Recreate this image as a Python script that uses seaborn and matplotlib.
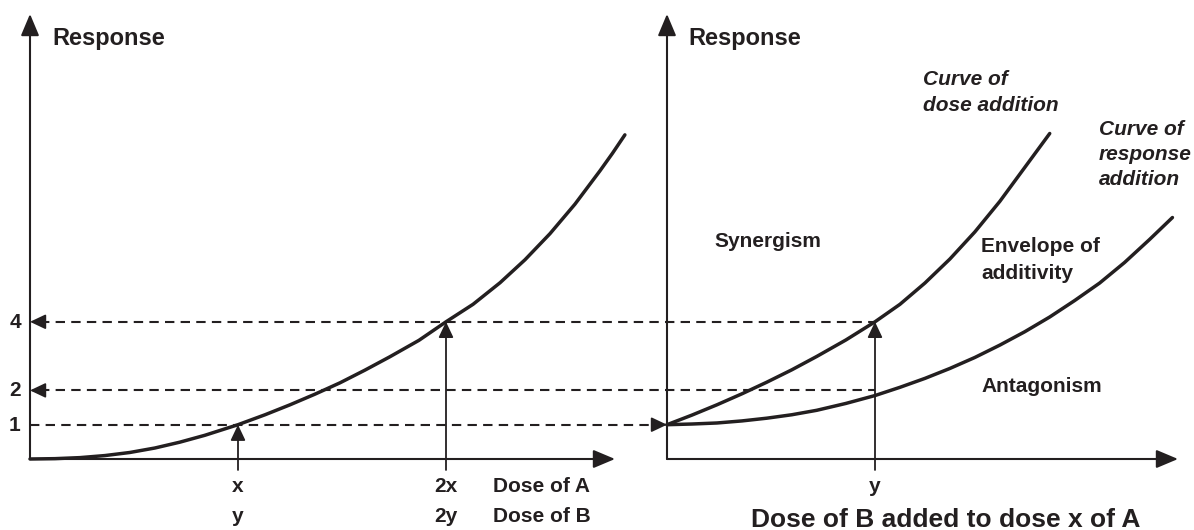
import numpy as np
import matplotlib
matplotlib.use('Agg')
import matplotlib.pyplot as plt
import seaborn as sns

# Values.
# Dose is in units of x (dose of A) / y (dose of B), response in units of the "1" level.
dose_a = [0, 0.12, 0.24, 0.36, 0.48, 0.60, 0.72, 0.84, 1.0, 1.13, 1.25, 1.37, 1.49,
          1.61, 1.73, 1.87, 2.0, 2.13, 2.26, 2.38, 2.5, 2.62, 2.74, 2.80, 2.86]
resp_a = [0, 0.01, 0.04, 0.10, 0.19, 0.32, 0.49, 0.69, 1.0, 1.29, 1.58, 1.89, 2.22,
          2.59, 2.98, 3.46, 4.0, 4.51, 5.14, 5.81, 6.57, 7.43, 8.40, 8.91, 9.45]

# right panel: dose of B added to dose x of A
dose_b_da = [0, 0.12, 0.24, 0.36, 0.48, 0.60, 0.72, 0.86, 1.0, 1.12, 1.24, 1.36, 1.48,
             1.60, 1.72, 1.84]
resp_dose_add = [1.0, 1.28, 1.58, 1.90, 2.24, 2.60, 2.99, 3.47, 4.0, 4.51, 5.13, 5.83,
                 6.62, 7.51, 8.50, 9.49]
dose_b_ra = [0, 0.12, 0.24, 0.36, 0.48, 0.60, 0.72, 0.86, 1.0, 1.12, 1.24, 1.36, 1.48,
             1.60, 1.72, 1.84, 1.96, 2.08, 2.20, 2.32, 2.43]
resp_resp_add = [1.0, 1.02, 1.05, 1.11, 1.19, 1.29, 1.42, 1.62, 1.85, 2.09, 2.35, 2.64,
                 2.96, 3.32, 3.71, 4.14, 4.62, 5.13, 5.73, 6.40, 7.04]

levels = [1, 2, 4]
level_labels = ['1', '2', '4']
dose_ticks = [1, 2]
dose_a_labels = ['x', '2x']
dose_b_labels = ['y', '2y']

sns.set_theme(style='white')
plt.rcParams['font.family'] = ['Liberation Sans', 'DejaVu Sans']
plt.rcParams['font.weight'] = 'bold'

INK = '#231f20'
W, H = 1194, 530
OX, OY = 30, 459          # left panel origin in pixels
SX, SY = 208, 34.3        # pixels per dose unit / response unit
SHIFT = (667 - OX) / SX   # right panel origin, in dose units

fig = plt.figure(figsize=(W / 100, H / 100), dpi=100)
ax = fig.add_axes([0, 0, 1, 1])
ax.set_xlim(-OX / SX, (W - OX) / SX)
ax.set_ylim((OY - H) / SY, OY / SY)
ax.axis('off')


def arrow(x0, y0, x1, y1, lw=1.5, ms=14, hl=0.95, hw=0.4):
    ax.annotate('', xy=(x1, y1), xytext=(x0, y0),
                arrowprops=dict(arrowstyle=f'-|>,head_length={hl},head_width={hw}',
                                lw=lw, color=INK, shrinkA=0, shrinkB=0,
                                mutation_scale=ms))


def label(px, py, s, size=15, ha='center', style='normal'):
    fig.text(px / W, 1 - py / H, s, ha=ha, va='baseline', fontsize=size,
             fontweight='bold', fontstyle=style, color=INK)


# axes with arrow heads
top = (OY - 14) / SY
arrow(0, 0, (615 - OX) / SX, 0)
arrow(0, 0, 0, top)
arrow(SHIFT, 0, (1178 - OX) / SX, 0)
arrow(SHIFT, 0, SHIFT, top)

# dashed guide lines
dash = dict(color=INK, lw=1.5, dashes=(4.5, 3))
ax.plot([0, SHIFT - 0.05], [levels[0], levels[0]], **dash)
arrow(SHIFT - 0.06, levels[0], SHIFT, levels[0], lw=1.3, ms=10, hl=0.95, hw=0.45)
for lv in levels[1:]:
    ax.plot([0.05, SHIFT + 1], [lv, lv], **dash)
    arrow(0.06, lv, 0, lv, lw=1.3, ms=10, hl=0.95, hw=0.45)

# vertical arrows from the dose axis up to the curves
for d, lv in zip(dose_ticks, [1, 4]):
    arrow(d, -0.32, d, lv, lw=1.3, ms=10, hl=0.95, hw=0.45)
arrow(SHIFT + 1, -0.32, SHIFT + 1, 4, lw=1.3, ms=10, hl=0.95, hw=0.45)

# curves
sns.lineplot(x=dose_a, y=resp_a, ax=ax, color=INK, lw=2.5, sort=False, estimator=None)
sns.lineplot(x=np.array(dose_b_da) + SHIFT, y=resp_dose_add, ax=ax, color=INK,
             lw=2.5, sort=False, estimator=None)
sns.lineplot(x=np.array(dose_b_ra) + SHIFT, y=resp_resp_add, ax=ax, color=INK,
             lw=2.5, sort=False, estimator=None)

# texts
label(52, 45, 'Response', size=17, ha='left')
label(688, 45, 'Response', size=17, ha='left')
for lv, s in zip(levels, level_labels):
    label(15, OY - lv * SY + 6, s)
for d, sa, sb in zip(dose_ticks, dose_a_labels, dose_b_labels):
    label(OX + d * SX, 492, sa)
    label(OX + d * SX, 522, sb)
label(493, 492, 'Dose of A', ha='left')
label(493, 522, 'Dose of B', ha='left')
label(OX + (SHIFT + 1) * SX, 492, dose_b_labels[0])
label(946, 527, 'Dose of B added to dose x of A', size=19)

label(923, 85, 'Curve of', ha='left', style='italic')
label(923, 111, 'dose addition', ha='left', style='italic')
label(1099, 135, 'Curve of', ha='left', style='italic')
label(1099, 160, 'response', ha='left', style='italic')
label(1099, 185, 'addition', ha='left', style='italic')
label(768, 247, 'Synergism')
label(981, 252, 'Envelope of', ha='left')
label(981, 279, 'additivity', ha='left')
label(981, 392, 'Antagonism', ha='left')

fig.savefig('out.png', dpi=100, facecolor='white')
